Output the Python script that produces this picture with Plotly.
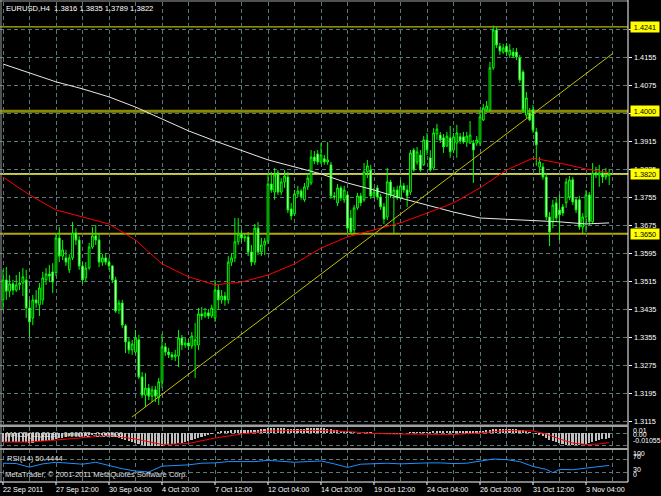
import plotly.graph_objects as go

W, H = 661, 496

# ---------------- data ----------------
bar_index = list(range(184))

open_ = [1.3461,1.3518,1.3486,1.3507,1.3489,1.3504,1.3509,1.3518,1.3438,1.3409,
         1.3461,1.3447,1.3461,1.3518,1.3535,1.3541,1.3538,1.3638,1.3586,1.3581,
         1.3547,1.3581,1.3652,1.3632,1.3558,1.3524,1.3552,1.3612,1.3644,1.3632,
         1.3569,1.3581,1.3569,1.3558,1.3518,1.3432,1.3452,1.3387,1.3341,1.3318,
         1.3312,1.3347,1.3241,1.3189,1.3209,1.3186,1.3204,1.3181,1.3227,1.3327,
         1.3312,1.3304,1.3298,1.3301,1.3352,1.3332,1.3338,1.3329,1.3332,1.3332,
         1.3421,1.3415,1.3424,1.3415,1.3409,1.3489,1.3461,1.3472,1.3461,1.3569,
         1.3581,1.3627,1.3649,1.3638,1.3641,1.3598,1.3569,1.3666,1.3598,1.3618,
         1.3629,1.3792,1.3769,1.3824,1.3769,1.3798,1.3812,1.3721,1.3707,1.3764,
         1.3772,1.3747,1.3784,1.3795,1.3869,1.3878,1.3855,1.3864,1.3855,1.3847,
         1.3758,1.3738,1.3781,1.3747,1.3761,1.3695,1.3661,1.3724,1.3758,1.3747,
         1.3827,1.3832,1.3758,1.3781,1.3755,1.3727,1.3698,1.3798,1.3761,1.3775,
         1.3752,1.3787,1.3775,1.3769,1.3889,1.3855,1.3875,1.3847,1.3918,1.3867,
         1.3838,1.3935,1.3932,1.3924,1.3901,1.3924,1.3889,1.3909,1.3927,1.3927,
         1.3912,1.3909,1.3909,1.3909,1.3909,1.3975,1.4004,1.4004,1.4124,1.4232,
         1.4186,1.4169,1.4186,1.4161,1.4169,1.4169,1.4152,1.4112,1.3989,1.3995,
         1.4004,1.3941,1.3841,1.3841,1.3812,1.3698,1.3684,1.3738,1.3718,1.3727,
         1.3738,1.3755,1.3804,1.3747,1.3747,1.3669,1.3698,1.3761,1.3684,1.3824,
         1.3818,1.3824,1.3812,1.3816]
high_ = [1.3547,1.3555,1.3532,1.3518,1.3532,1.3541,1.3552,1.3547,1.3461,1.3475,
         1.3489,1.3509,1.3541,1.3552,1.3561,1.3566,1.3652,1.3669,1.3632,1.3604,
         1.3592,1.3684,1.3666,1.3644,1.3569,1.3569,1.3624,1.3669,1.3675,1.3652,
         1.3592,1.3595,1.3581,1.3561,1.3527,1.3461,1.3461,1.3392,1.3352,1.3347,
         1.3375,1.3361,1.3255,1.3252,1.3221,1.3215,1.3215,1.3238,1.3364,1.3338,
         1.3324,1.3312,1.3318,1.3375,1.3361,1.3352,1.3347,1.3369,1.3395,1.3438,
         1.3441,1.3438,1.3435,1.3447,1.3518,1.3504,1.3489,1.3484,1.3586,1.3595,
         1.3695,1.3695,1.3661,1.3649,1.3655,1.3618,1.3678,1.3684,1.3638,1.3638,
         1.3824,1.3827,1.3838,1.3832,1.3809,1.3832,1.3827,1.3738,1.3775,1.3787,
         1.3778,1.3795,1.3824,1.3889,1.3886,1.3889,1.3909,1.3875,1.3912,1.3855,
         1.3769,1.3792,1.3787,1.3787,1.3769,1.3718,1.3732,1.3767,1.3767,1.3852,
         1.3861,1.3847,1.3781,1.3789,1.3764,1.3738,1.3838,1.3804,1.3784,1.3787,
         1.3804,1.3795,1.3789,1.3889,1.3895,1.3898,1.3889,1.3929,1.3938,1.3889,
         1.3952,1.3964,1.3941,1.3935,1.3941,1.3958,1.3938,1.3961,1.3938,1.3941,
         1.3941,1.3972,1.3918,1.3929,1.4004,1.4021,1.4029,1.4141,1.4245,1.4240,
         1.4195,1.4192,1.4195,1.4192,1.4181,1.4181,1.4161,1.4118,1.4055,1.4009,
         1.4018,1.3952,1.3869,1.3852,1.3824,1.3712,1.3747,1.3752,1.3761,1.3735,
         1.3809,1.3815,1.3812,1.3755,1.3758,1.3709,1.3775,1.3769,1.3852,1.3841,
         1.3847,1.3832,1.3838,1.3835]
low_ = [1.3432,1.3461,1.3469,1.3475,1.3484,1.3489,1.3472,1.3409,1.3355,1.3389,
        1.3438,1.3415,1.3447,1.3504,1.3512,1.3481,1.3529,1.3569,1.3575,1.3558,
        1.3538,1.3575,1.3618,1.3547,1.3507,1.3512,1.3547,1.3607,1.3618,1.3555,
        1.3558,1.3561,1.3547,1.3509,1.3424,1.3421,1.3381,1.3309,1.3307,1.3304,
        1.3307,1.3235,1.3181,1.3155,1.3175,1.3169,1.3169,1.3161,1.3209,1.3301,
        1.3295,1.3289,1.3286,1.3269,1.3318,1.3324,1.3318,1.3321,1.3238,1.3318,
        1.3404,1.3409,1.3407,1.3409,1.3398,1.3432,1.3450,1.3444,1.3450,1.3558,
        1.3569,1.3618,1.3627,1.3627,1.3586,1.3558,1.3561,1.3589,1.3586,1.3589,
        1.3621,1.3767,1.3747,1.3761,1.3761,1.3781,1.3709,1.3689,1.3701,1.3755,
        1.3747,1.3741,1.3775,1.3789,1.3849,1.3847,1.3849,1.3847,1.3847,1.3750,
        1.3747,1.3729,1.3744,1.3738,1.3652,1.3649,1.3649,1.3718,1.3729,1.3741,
        1.3809,1.3750,1.3752,1.3747,1.3718,1.3678,1.3689,1.3752,1.3652,1.3747,
        1.3747,1.3767,1.3727,1.3761,1.3827,1.3847,1.3827,1.3844,1.3875,1.3827,
        1.3832,1.3918,1.3909,1.3881,1.3898,1.3867,1.3881,1.3867,1.3907,1.3907,
        1.3898,1.3907,1.3795,1.3901,1.3901,1.3972,1.3998,1.3998,1.4118,1.4181,
        1.4161,1.4164,1.4158,1.4152,1.4152,1.4146,1.4081,1.3995,1.3981,1.3972,
        1.3938,1.3844,1.3824,1.3804,1.3689,1.3615,1.3666,1.3684,1.3632,1.3701,
        1.3724,1.3747,1.3732,1.3709,1.3661,1.3652,1.3655,1.3675,1.3678,1.3809,
        1.3784,1.3795,1.3804,1.3789]
close_ = [1.3518,1.3486,1.3507,1.3489,1.3504,1.3509,1.3527,1.3438,1.3398,1.3461,
          1.3452,1.3495,1.3524,1.3535,1.3529,1.3512,1.3638,1.3586,1.3604,1.3569,
          1.3581,1.3652,1.3632,1.3558,1.3518,1.3552,1.3612,1.3644,1.3632,1.3569,
          1.3581,1.3569,1.3558,1.3518,1.3429,1.3452,1.3389,1.3341,1.3318,1.3335,
          1.3352,1.3241,1.3189,1.3209,1.3186,1.3204,1.3186,1.3227,1.3327,1.3312,
          1.3304,1.3298,1.3304,1.3352,1.3332,1.3338,1.3329,1.3358,1.3347,1.3421,
          1.3415,1.3424,1.3415,1.3438,1.3489,1.3461,1.3472,1.3461,1.3569,1.3581,
          1.3627,1.3649,1.3638,1.3641,1.3598,1.3569,1.3666,1.3598,1.3618,1.3629,
          1.3792,1.3775,1.3818,1.3769,1.3798,1.3815,1.3718,1.3701,1.3764,1.3772,
          1.3755,1.3784,1.3809,1.3869,1.3858,1.3855,1.3875,1.3855,1.3861,1.3758,
          1.3755,1.3781,1.3752,1.3775,1.3666,1.3655,1.3724,1.3758,1.3738,1.3827,
          1.3844,1.3758,1.3769,1.3755,1.3727,1.3692,1.3798,1.3761,1.3775,1.3752,
          1.3787,1.3775,1.3758,1.3881,1.3832,1.3884,1.3832,1.3918,1.3889,1.3832,
          1.3938,1.3949,1.3918,1.3898,1.3929,1.3884,1.3927,1.3938,1.3915,1.3912,
          1.3929,1.3932,1.3889,1.3918,1.3984,1.4009,1.4015,1.4124,1.4232,1.4189,
          1.4172,1.4181,1.4169,1.4175,1.4158,1.4155,1.4089,1.4004,1.4038,1.3975,
          1.3946,1.3904,1.3855,1.3812,1.3698,1.3655,1.3732,1.3695,1.3704,1.3709,
          1.3798,1.3804,1.3741,1.3718,1.3669,1.3698,1.3761,1.3684,1.3824,1.3818,
          1.3824,1.3812,1.3818,1.3822]

# moving averages (read at every 8th bar)
ma_idx = [0,8,16,24,32,40,48,56,64,72,80,88,96,104,112,120,128,136,144,152,160,168,176,183]
ma_white = [1.4135,1.4109,1.4084,1.4064,1.4041,1.4012,1.3978,1.3944,1.3915,1.3889,1.3861,1.3841,
            1.3821,1.3795,1.3775,1.3752,1.3732,1.3712,1.3695,1.3691,1.3689,1.3684,1.3678,1.3681]
ma_red = [1.3812,1.3761,1.3718,1.3698,1.3678,1.3632,1.3564,1.3527,1.3504,1.3512,1.3532,1.3564,
          1.3609,1.3641,1.3661,1.3681,1.3709,1.3738,1.3781,1.3832,1.3866,1.3852,1.3835,1.3824]

# MACD(12,26,9) main histogram (per bar) and signal line (sampled)
macd_main = [-0.00490,-0.00490,-0.00490,-0.00490,-0.00490,-0.00490,-0.00490,-0.00490,
             -0.00517,-0.00517,-0.00490,-0.00462,-0.00435,-0.00408,-0.00381,-0.00354,
             -0.00299,-0.00272,-0.00245,-0.00218,-0.00190,-0.00163,-0.00163,-0.00136,
             -0.00136,-0.00136,-0.00109,-0.00082,-0.00054,-0.00054,-0.00082,-0.00082,-0.00109,
             -0.00163,-0.00218,-0.00272,-0.00326,-0.00381,-0.00435,-0.00490,-0.00544,
             -0.00598,-0.00653,-0.00680,-0.00707,-0.00707,-0.00707,-0.00707,-0.00680,-0.00653,-0.00626,
             -0.00598,-0.00571,-0.00544,-0.00517,-0.00490,
             -0.00435,-0.00381,-0.00326,-0.00272,-0.00218,-0.00163,-0.00109,
             -0.00054,0.0,0.00054,0.00082,0.00109,0.00136,0.00163,0.00190,
             0.00190,0.00190,0.00190,0.00190,0.00190,0.00190,0.00190,0.00218,0.00245,0.00272,
             0.00272,0.00272,0.00272,0.00272,0.00272,0.00245,0.00245,0.00245,0.00245,0.00245,
             0.00245,0.00272,0.00272,0.00272,0.00272,0.00272,0.00272,0.00245,0.00218,
             0.00190,0.00163,0.00136,0.00109,0.00082,0.00054,0.00027,0.0,0.0,
             0.00027,0.00027,0.00027,0.0,0.0,-0.00027,-0.00027,-0.00027,-0.00027,-0.00027,
             -0.00027,-0.00027,0.0,0.0,0.00027,0.00027,0.00027,0.00054,
             0.00054,0.00054,0.00054,0.00082,0.00082,0.00082,0.00082,0.00082,0.00082,0.00082,
             0.00082,0.00082,0.00082,0.00082,0.00082,0.00082,0.00082,
             0.00109,0.00136,0.00163,0.00190,0.00218,0.00245,0.00245,0.00245,0.00245,0.00245,
             0.00245,0.00218,0.00190,
             0.00163,0.00109,0.00054,0.0,-0.00054,-0.00109,
             -0.00190,-0.00272,-0.00354,-0.00435,-0.00490,-0.00544,-0.00598,-0.00626,-0.00653,
             -0.00653,-0.00653,-0.00626,-0.00598,-0.00571,-0.00544,-0.00490,-0.00435,-0.00381,
             -0.00326,-0.00299,-0.00272]
sig_idx = [0,8,16,24,32,40,48,56,64,72,80,88,96,104,112,120,128,136,144,152,160,164,168,172,176,180,183]
macd_signal = [-0.00490,-0.00490,-0.00381,-0.00245,-0.00136,-0.00326,-0.00626,-0.00571,-0.00272,
               -0.00054,0.00109,0.00136,0.00136,0.00082,-0.00027,-0.00054,-0.00082,-0.00082,
               0.0,0.00136,0.00109,-0.00054,-0.00326,-0.00544,-0.00626,-0.00598,-0.00526]

# RSI(14) (sampled)
rsi_idx = [0,4,8,12,16,20,24,28,32,36,40,44,48,52,56,60,64,68,72,76,80,84,88,92,96,100,104,
           108,112,116,120,124,128,132,136,140,144,148,152,156,160,164,166,168,172,176,180,183]
rsi_val = [57,56,45,55,60,56,54,60,50,40,33,30,48,50,52,57,58,62,63,62,66,63,60,62,64,55,44,
           54,56,57,55,57,58,58,56,57,64,70,68,62,47,38,28,38,37,42,46,50.4444]

# price scale ticks, horizontal lines, trend line, time labels
grid_prices = [1.3115,1.3195,1.3275,1.3355,1.3435,1.3515,1.3595,1.3675,1.3755,1.3835,
               1.3915,1.3995,1.4075,1.4155,1.4235]
label_prices = ["1.3115","1.3195","1.3275","1.3355","1.3435","1.3515","1.3595","1.3675",
                "1.3755","1.3835","1.3915","1.4075","1.4155"]
box_prices = ["1.4241","1.4000","1.3820","1.3650"]
bid_price = 1.3822
trend_bars = [38.9, 184.2]
trend_prices = [1.3126, 1.4166]
time_idx = [0,16,32,48,64,80,96,112,128,144,160,176]
time_labels = ["22 Sep 2011","27 Sep 12:00","30 Sep 04:00","4 Oct 20:00","7 Oct 12:00",
               "12 Oct 04:00","14 Oct 20:00","19 Oct 12:00","24 Oct 04:00","26 Oct 20:00",
               "31 Oct 12:00","3 Nov 04:00"]
vgrid_idx = list(range(0, 185, 8))

# ---------------- layout geometry ----------------
def px(xp):
    return xp / W

def py(yp):
    return 1 - yp / H

FONT = "Liberation Sans"
GRID = "#5a7878"
DASH = "4px,3px"
XR = [-3 / 3.3125, 625 / 3.3125]
PLOT_R = 628

fig = go.Figure()

fig.add_trace(go.Candlestick(
    x=bar_index, open=open_, high=high_, low=low_, close=close_,
    increasing=dict(line=dict(color="#00ff00", width=1), fillcolor="#000000"),
    decreasing=dict(line=dict(color="#00ff00", width=1), fillcolor="#ffffff"),
    whiskerwidth=0, hoverinfo="skip", showlegend=False, xaxis="x", yaxis="y"))
fig.add_trace(go.Scatter(x=ma_idx, y=ma_white, mode="lines", line=dict(color="#e8e8e8", width=1),
                         hoverinfo="skip", showlegend=False, xaxis="x", yaxis="y"))
fig.add_trace(go.Scatter(x=ma_idx, y=ma_red, mode="lines", line=dict(color="#ff0000", width=1),
                         hoverinfo="skip", showlegend=False, xaxis="x", yaxis="y"))
fig.add_trace(go.Scatter(x=trend_bars, y=trend_prices, mode="lines", line=dict(color="#c0c000", width=1),
                         hoverinfo="skip", showlegend=False, xaxis="x", yaxis="y"))

fig.add_trace(go.Bar(x=bar_index, y=macd_main, width=0.5, marker=dict(color="#c0c0c0", line=dict(width=0)),
                     hoverinfo="skip", showlegend=False, xaxis="x2", yaxis="y2"))
fig.add_trace(go.Scatter(x=sig_idx, y=macd_signal, mode="lines", line=dict(color="#ff0000", width=1),
                         hoverinfo="skip", showlegend=False, xaxis="x2", yaxis="y2"))
fig.add_trace(go.Scatter(x=rsi_idx, y=rsi_val, mode="lines", line=dict(color="#1e90ff", width=1),
                         hoverinfo="skip", showlegend=False, xaxis="x3", yaxis="y3"))

xcommon = dict(range=XR, domain=[0, px(PLOT_R)], tickvals=vgrid_idx, showgrid=True, gridcolor=GRID,
               griddash=DASH, gridwidth=1, showticklabels=False, zeroline=False, showline=False,
               ticks="", fixedrange=True)
fig.update_layout(
    width=W, height=H, margin=dict(l=0, r=0, t=0, b=0),
    paper_bgcolor="#000000", plot_bgcolor="#000000",
    font=dict(family=FONT, color="#ffffff", size=8),
    bargap=0, boxgap=0.25,
    xaxis=dict(**xcommon, anchor="y", rangeslider=dict(visible=False)),
    xaxis2=dict(**xcommon, anchor="y2", matches="x"),
    xaxis3=dict(**xcommon, anchor="y3", matches="x"),
    yaxis=dict(domain=[py(424), py(2)], range=[1.3115 - 3 / 3500, 1.3115 + 419 / 3500],
               tickvals=grid_prices, showgrid=True, gridcolor=GRID, griddash=DASH,
               showticklabels=False, zeroline=False, side="right", anchor="x",
               ticks="outside", ticklen=3, tickcolor="#ffffff", fixedrange=True),
    yaxis2=dict(domain=[py(448), py(427)], range=[-0.00816, 0.003264],
                tickvals=[0.0, -0.00653], showgrid=True, gridcolor=GRID, griddash=DASH,
                showticklabels=False, zeroline=False, fixedrange=True),
    yaxis3=dict(domain=[py(482), py(449)], range=[-0.77, 100.77],
                tickvals=[30, 70], showgrid=True, gridcolor=GRID, griddash=DASH,
                showticklabels=False, zeroline=False, fixedrange=True),
)

shapes = []
# horizontal objects
hl = [(1.4241, "#e6e600", 1), (1.4000, "#8a8a00", 3), (1.3650, "#b4a800", 2),
      (bid_price, "#a8c4dc", 1), (1.3820, "#ffff00", 1)]
for p, c, w in hl:
    shapes.append(dict(type="line", xref="x", yref="y", x0=XR[0], x1=XR[1], y0=p, y1=p,
                       line=dict(color=c, width=w), layer="below"))
# panel frames
shapes += [
    dict(type="line", xref="paper", yref="paper", x0=px(1), x1=px(1), y0=py(0), y1=py(482),
         line=dict(color="#a0a0a0", width=1)),
    dict(type="line", xref="paper", yref="paper", x0=px(0), x1=px(PLOT_R), y0=py(1), y1=py(1),
         line=dict(color="#a0a0a0", width=1)),
    dict(type="line", xref="paper", yref="paper", x0=px(PLOT_R), x1=px(PLOT_R), y0=py(0), y1=py(482),
         line=dict(color="#ffffff", width=1)),
    dict(type="rect", xref="paper", yref="paper", x0=px(0), x1=px(PLOT_R), y0=py(427), y1=py(424.5),
         fillcolor="#a0a0a0", line=dict(width=0)),
    dict(type="rect", xref="paper", yref="paper", x0=px(0), x1=px(PLOT_R), y0=py(450), y1=py(448),
         fillcolor="#a0a0a0", line=dict(width=0)),
    dict(type="line", xref="paper", yref="paper", x0=px(0), x1=px(PLOT_R), y0=py(482), y1=py(482),
         line=dict(color="#ffffff", width=1)),
]
for i in time_idx:
    shapes.append(dict(type="line", xref="x3", yref="paper", x0=i, x1=i, y0=py(482), y1=py(485),
                       line=dict(color="#ffffff", width=1)))
fig.update_layout(shapes=shapes)

ann = []
def txt(x, y, s, size=7.6, color="#ffffff", xref="paper", yref="paper", **kw):
    ann.append(dict(x=x, y=y, xref=xref, yref=yref, text=s, showarrow=False, xanchor="left",
                    yanchor="middle", font=dict(family=FONT, size=size, color=color), **kw))

txt(px(4), py(8.5), "EURUSD,H4\u00a0\u00a01.3816 1.3835 1.3789 1.3822")
txt(px(4), py(434.5), "MACD(12,26,9) -0.00272 -0.00526", color="#e0e0e0")
txt(px(5), py(458.5), "RSI(14) 50.4444", color="#e0e0e0")
txt(px(3), py(474.5), "MetaTrader, \u00a9 2001-2011 MetaQuotes Software Corp.", color="#e0e0e0")

for s in label_prices:
    txt(px(632), float(s), s, size=7.3, yref="y")
for s in box_prices:
    ann.append(dict(x=px(630), y=float(s), xref="paper", yref="y", text=s, showarrow=False,
                    xanchor="left", yanchor="middle", bgcolor="#ffff00", borderpad=0.5,
                    width=27, height=9, align="center",
                    font=dict(family=FONT, size=7.3, color="#000000")))

txt(px(631), py(430.5), "0.01", size=7.0)
txt(px(631), py(434.5), "0.00", size=7.0)
txt(px(631), py(440.5), "-0.01055", size=7.0)
txt(px(631), py(453), "100", size=7.0)
txt(px(631), py(456.5), "70", size=7.0)
txt(px(631), py(469.5), "30", size=7.0)
txt(px(631), py(474.5), "0", size=7.0)

for i, s in zip(time_idx, time_labels):
    ann.append(dict(x=i, y=py(489.5), xref="x3", yref="paper", text=s, showarrow=False,
                    xanchor="left", yanchor="middle", xshift=-2,
                    font=dict(family=FONT, size=7.2, color="#ffffff")))
fig.update_layout(annotations=ann)

fig.write_html("out.html", config={"displayModeBar": False},
               post_script="document.body.style.margin='0';document.body.style.padding='0';"
                           "document.body.style.overflow='hidden';"
                           "document.documentElement.style.overflow='hidden';")
